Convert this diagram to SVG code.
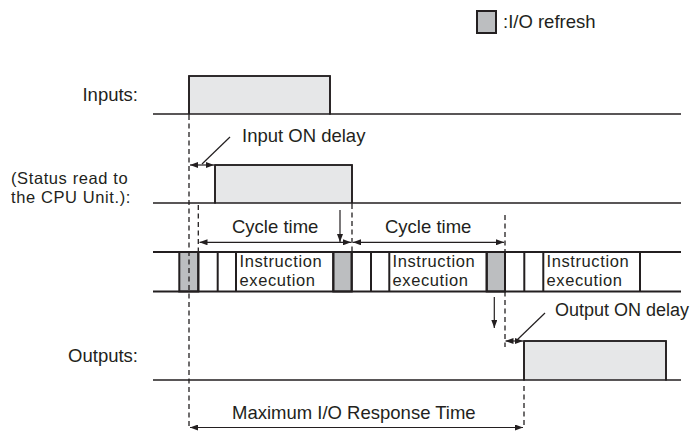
<svg xmlns="http://www.w3.org/2000/svg" width="693" height="432" viewBox="0 0 693 432">
<defs>
<style>
text{font-family:"Liberation Sans",Arial,sans-serif;font-size:18.5px;fill:#231f20}
text.two{font-size:16.5px;letter-spacing:0.6px}
.w{fill:#e6e7e8;stroke:#231f20;stroke-width:1.6}
.ln{fill:none;stroke:#231f20;stroke-width:1.6}
.bar{fill:none;stroke:#231f20;stroke-width:2}
.g{fill:#bcbec0;stroke:#231f20;stroke-width:2}
.d{fill:none;stroke:#231f20;stroke-width:1.3;stroke-dasharray:5,3.5}
.a{fill:none;stroke:#231f20;stroke-width:1.2}
</style>
<marker id="ah" viewBox="0 0 8 6" refX="8" refY="3" markerWidth="8" markerHeight="6" markerUnits="userSpaceOnUse" orient="auto-start-reverse">
<path d="M0,0 L8,3 L0,6 Z" fill="#231f20"/>
</marker>
</defs>
<g id="legend">
<rect x="477" y="11" width="19" height="22" class="g" stroke-width="1.5"/>
<text x="503" y="28">:I/O refresh</text>
</g>
<g id="labels">
<text x="138" y="101" text-anchor="end">Inputs:</text>
<text class="two" x="11" y="184">(Status read to<tspan x="11" y="203">the CPU Unit.):</tspan></text>
<text x="138" y="362" text-anchor="end">Outputs:</text>
</g>
<g id="inputs">
<path d="M189,114 V76 H330 V114 Z" class="w" stroke="none"/>
<path d="M153,114 H189 V76 H330 V114 H681" class="ln"/>
</g>
<g id="status">
<path d="M215,203 V165 H352 V203 Z" class="w" stroke="none"/>
<path d="M153,203 H215 V165 H352 V203 H681" class="ln"/>
</g>
<g id="outputs">
<path d="M524,380 V341 H666 V380 Z" class="w" stroke="none"/>
<path d="M153,380 H524 V341 H666 V380 H681" class="ln"/>
</g>
<g id="cycle-bar">
<rect x="179.3" y="252" width="19" height="39.5" class="g"/>
<rect x="333.3" y="252" width="18.4" height="39.5" class="g"/>
<rect x="486.7" y="252" width="18.3" height="39.5" class="g"/>
<path d="M153,252 H681 M153,291.5 H681 M198.3,252 V291.5 M217.7,252 V291.5 M236,252 V291.5 M333.3,252 V291.5 M351.7,252 V291.5 M371,252 V291.5 M389.3,252 V291.5 M486.7,252 V291.5 M505,252 V291.5 M524.3,252 V291.5 M543.3,252 V291.5 M640,252 V291.5" class="bar"/>
<text class="two" x="239.5" y="267">Instruction<tspan x="239.5" y="286">execution</tspan></text>
<text class="two" x="392.5" y="267">Instruction<tspan x="392.5" y="286">execution</tspan></text>
<text class="two" x="546.5" y="267">Instruction<tspan x="546.5" y="286">execution</tspan></text>
</g>
<g id="connectors">
<path d="M189,115 V428" class="d"/>
<path d="M198.3,205 V251" class="d"/>
<path d="M352,204 V251" class="d"/>
<path d="M505,215 V347" class="d"/>
<path d="M524,386 V428" class="d"/>
<path d="M190,165 H214" class="a" marker-start="url(#ah)" marker-end="url(#ah)"/>
<path d="M230,137 L202,164" class="a"/>
<path d="M199.5,242.3 H351" class="a" marker-start="url(#ah)" marker-end="url(#ah)"/>
<path d="M353,242.3 H504" class="a" marker-start="url(#ah)" marker-end="url(#ah)"/>
<path d="M340,210 V242" class="a" marker-end="url(#ah)"/>
<path d="M494.3,297 V328" class="a" marker-end="url(#ah)"/>
<path d="M505.5,341 H523" class="a" marker-start="url(#ah)" marker-end="url(#ah)"/>
<path d="M545,313 L517,340" class="a"/>
<path d="M190,427.5 H523" class="a" marker-start="url(#ah)" marker-end="url(#ah)"/>
</g>
<g id="annotations">
<text x="242" y="142">Input ON delay</text>
<text x="232" y="233">Cycle time</text>
<text x="385" y="233">Cycle time</text>
<text x="555" y="316" style="font-size:18px">Output ON delay</text>
<text x="232" y="419">Maximum I/O Response Time</text>
</g>
</svg>
